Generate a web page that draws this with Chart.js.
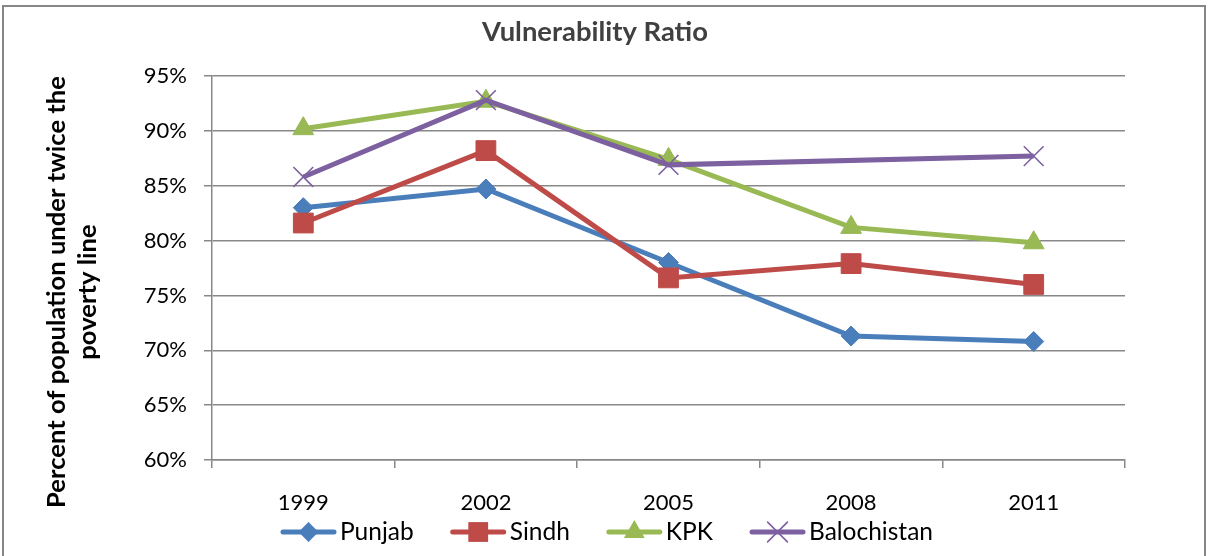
<!DOCTYPE html>
<html><head><meta charset="utf-8">
<script src="https://cdn.jsdelivr.net/npm/chart.js@4/dist/chart.umd.min.js"></script>
<style>html,body{margin:0;padding:0;background:#fff;overflow:hidden}canvas{display:block}</style>
</head><body>
<canvas id="c" width="1209" height="556"></canvas>
<script>
// ---- data ----
const years = ['1999', '2002', '2005', '2008', '2011'];
const punjab = [83.0, 84.7, 78.0, 71.3, 70.8];
const sindh = [81.6, 88.2, 76.6, 77.9, 76.0];
const kpk = [90.2, 92.7, 87.4, 81.2, 79.8];
const balochistan = [85.8, 92.8, 86.9, null, 87.7];
const seriesNames = ['Punjab', 'Sindh', 'KPK', 'Balochistan'];
const yMin = 60, yMax = 95, yStep = 5;
const titleText = 'Vulnerability Ratio';
const yTitleLines = ['Percent of population under twice the', 'poverty line'];

// ---- styles ----
const FONT = 'Lato, "Open Sans", "DejaVu Sans", sans-serif';
const colors = ['#4A7EBB', '#BE4B48', '#98B954', '#7D60A0'];
const pStyles = ['rectRot', 'rect', 'triangle', 'crossRot'];
const pRadii = [10, 14, 12, 14];
const GRID = '#888888';

const seriesData = [punjab, sindh, kpk, balochistan];
const datasets = seriesData.map((d, i) => ({
  label: seriesNames[i],
  data: d,
  borderColor: colors[i],
  backgroundColor: colors[i],
  borderWidth: 5,
  pointStyle: pStyles[i],
  pointRadius: pRadii[i],
  pointHoverRadius: pRadii[i],
  pointBackgroundColor: i === 3 ? 'rgba(0,0,0,0)' : colors[i],
  pointBorderColor: colors[i],
  pointBorderWidth: i === 3 ? 1.6 : 1,
  tension: 0,
  spanGaps: true,
  order: 4 - i
}));

function fitFont(ctx, text, weight, target, base) {
  ctx.font = weight + ' ' + base + 'px ' + FONT;
  const w = ctx.measureText(text).width;
  return Math.max(base * 0.8, Math.min(base * 1.3, base * target / w));
}

function drawMarker(ctx, style, x, y, r, color) {
  ctx.save();
  ctx.fillStyle = color; ctx.strokeStyle = color;
  ctx.beginPath();
  if (style === 'rectRot') {
    ctx.moveTo(x, y - r); ctx.lineTo(x + r, y); ctx.lineTo(x, y + r); ctx.lineTo(x - r, y); ctx.closePath(); ctx.fill();
  } else if (style === 'rect') {
    const s = r * Math.SQRT1_2; ctx.rect(x - s, y - s, 2 * s, 2 * s); ctx.fill();
  } else if (style === 'triangle') {
    ctx.moveTo(x, y - r);
    ctx.lineTo(x + r * Math.sin(2 * Math.PI / 3), y + r * 0.5);
    ctx.lineTo(x - r * Math.sin(2 * Math.PI / 3), y + r * 0.5);
    ctx.closePath(); ctx.fill();
  } else {
    const s = r * Math.SQRT1_2; ctx.lineWidth = 1.6;
    ctx.moveTo(x - s, y - s); ctx.lineTo(x + s, y + s);
    ctx.moveTo(x + s, y - s); ctx.lineTo(x - s, y + s); ctx.stroke();
  }
  ctx.restore();
}

const decor = {
  id: 'decor',
  beforeDraw(chart) {
    const ctx = chart.ctx;
    ctx.save();
    ctx.fillStyle = '#fff'; ctx.fillRect(0, 0, chart.width, chart.height);
    ctx.strokeStyle = '#868686'; ctx.lineWidth = 2;
    ctx.strokeRect(3, 6, 1202, 600);
    ctx.restore();
  },
  afterDraw(chart) {
    const ctx = chart.ctx;
    ctx.save();
    // title
    const ts = fitFont(ctx, titleText, 'bold', 226, 24);
    ctx.font = 'bold ' + ts + 'px ' + FONT;
    ctx.fillStyle = '#404040'; ctx.textAlign = 'center'; ctx.textBaseline = 'middle';
    ctx.fillText(titleText, 595, 32);
    // y axis title
    const ys = fitFont(ctx, yTitleLines[0], 'bold', 432, 22);
    ctx.font = 'bold ' + ys + 'px ' + FONT;
    ctx.fillStyle = '#000';
    ctx.save();
    ctx.translate(72.5, 292);
    ctx.rotate(-Math.PI / 2);
    ctx.fillText(yTitleLines[0], 0, -15.5);
    ctx.fillText(yTitleLines[1], 0, 15.5);
    ctx.restore();
    // legend
    const lsz = fitFont(ctx, 'Balochistan', 'normal', 124, 22);
    ctx.font = lsz + 'px ' + FONT;
    const lineW = 55, gapT = 4, gapI = 37;
    const widths = seriesNames.map(n => ctx.measureText(n).width);
    let total = 0;
    widths.forEach((w, i) => { total += lineW + gapT + w + (i < widths.length - 1 ? gapI : 0); });
    let x = 607 - total / 2;
    const ly = 532;
    ctx.textAlign = 'left';
    seriesNames.forEach((n, i) => {
      ctx.strokeStyle = colors[i]; ctx.lineWidth = 5; ctx.lineCap = 'round';
      ctx.beginPath(); ctx.moveTo(x + 2, ly); ctx.lineTo(x + lineW - 2, ly); ctx.stroke();
      drawMarker(ctx, pStyles[i], x + lineW / 2, ly, pRadii[i], colors[i]);
      ctx.fillStyle = '#000';
      ctx.fillText(n, x + lineW + gapT, ly);
      x += lineW + gapT + widths[i] + gapI;
    });
    ctx.restore();
  }
};

new Chart(document.getElementById('c'), {
  type: 'line',
  data: { labels: years, datasets },
  options: {
    responsive: false,
    animation: false,
    layout: { padding: { left: 0, top: 76, right: 84, bottom: 36 } },
    plugins: { legend: { display: false }, title: { display: false }, tooltip: { enabled: false } },
    events: [],
    scales: {
      x: {
        offset: true,
        afterFit(s) { s.height = 60; },
        grid: { display: true, offset: true, drawOnChartArea: false, drawTicks: true, tickLength: 8, color: GRID, lineWidth: 1.5 },
        border: { display: true, color: GRID, width: 1.5 },
        ticks: { color: '#000', font: { family: FONT, size: 22 }, padding: 22, maxRotation: 0 }
      },
      y: {
        min: yMin, max: yMax,
        afterFit(s) { s.width = 212; },
        grid: { display: true, drawOnChartArea: true, drawTicks: true, tickLength: 8, color: GRID, lineWidth: 1.5 },
        border: { display: true, color: GRID, width: 1.5 },
        ticks: { stepSize: yStep, color: '#000', font: { family: FONT, size: 22 }, padding: 17, callback: v => v + '%' }
      }
    }
  },
  plugins: [decor]
});
</script>
</body></html>
